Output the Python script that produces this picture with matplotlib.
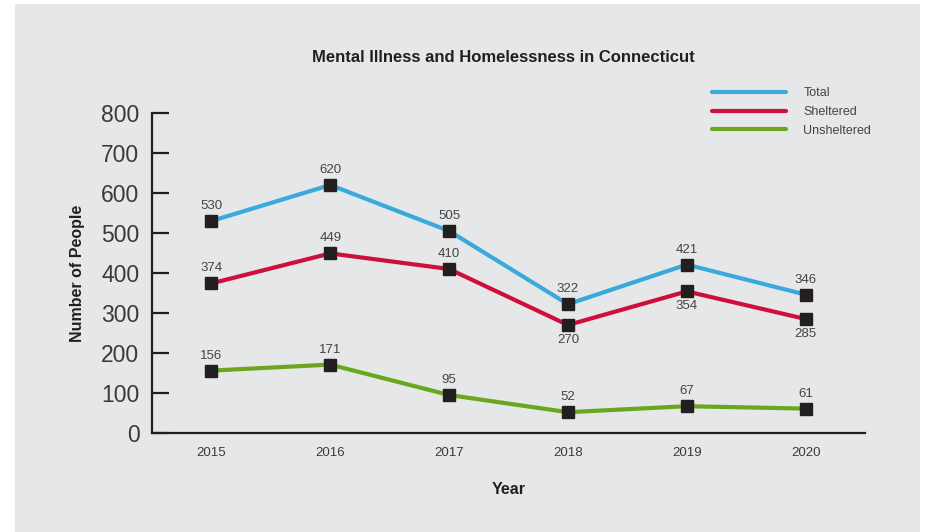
import matplotlib
matplotlib.use("Agg")
import matplotlib.pyplot as plt
from matplotlib.patches import Rectangle

years = [2015, 2016, 2017, 2018, 2019, 2020]
total = [530, 620, 505, 322, 421, 346]
sheltered = [374, 449, 410, 270, 354, 285]
unsheltered = [156, 171, 95, 52, 67, 61]
sheltered_below = [False, False, False, True, True, True]

plt.rcParams['font.family'] = ['Liberation Sans', 'DejaVu Sans']

W, H = 928, 532
fig = plt.figure(figsize=(W / 100, H / 100), dpi=100)
fig.patch.set_facecolor('white')
fig.patches.append(Rectangle((15 / W, 0), (920 - 15) / W, 1 - 4 / H,
                             transform=fig.transFigure, facecolor='#e6e7e8',
                             edgecolor='none', zorder=-10))

ax = fig.add_axes([152 / W, 1 - 433 / H, (865 - 152) / W, (433 - 113) / H])
ax.set_facecolor('none')
ax.set_xlim(2014.5, 2020.5)
ax.set_ylim(0, 800)

c_total = '#3aa9dc'
c_shel = '#cf0f3b'
c_uns = '#6aa71f'

for vals, col, lab in [(total, c_total, 'Total'), (sheltered, c_shel, 'Sheltered'),
                       (unsheltered, c_uns, 'Unsheltered')]:
    ax.plot(years, vals, color=col, lw=3, label=lab, zorder=2, solid_capstyle='round')
    ax.plot(years, vals, ls='none', marker='s', ms=8, color='#231f20', zorder=3)

lab_kw = dict(fontsize=9.5, color='#444444', ha='center')
for x, v in zip(years, total):
    ax.annotate(str(v), (x, v), xytext=(0, 6.5), textcoords='offset points', va='bottom', **lab_kw)
for x, v, b in zip(years, sheltered, sheltered_below):
    if b:
        ax.annotate(str(v), (x, v), xytext=(0, -6.5), textcoords='offset points', va='top', **lab_kw)
    else:
        ax.annotate(str(v), (x, v), xytext=(0, 6.5), textcoords='offset points', va='bottom', **lab_kw)
for x, v in zip(years, unsheltered):
    ax.annotate(str(v), (x, v), xytext=(0, 6.5), textcoords='offset points', va='bottom', **lab_kw)

for s in ['top', 'right']:
    ax.spines[s].set_visible(False)
for s in ['left', 'bottom']:
    ax.spines[s].set_color('#231f20')
    ax.spines[s].set_linewidth(1.6)

ax.set_yticks(range(0, 801, 100))
ax.tick_params(axis='y', direction='in', length=12, width=1.6, color='#231f20',
               labelsize=16.5, labelcolor='#3a3a3a', pad=9)
ax.set_xticks(years)
ax.tick_params(axis='x', length=0, labelsize=9.5, labelcolor='#3a3a3a', pad=10)

ax.set_ylabel('Number of People', fontsize=11.5, fontweight='bold', color='#231f20', labelpad=12)
ax.set_xlabel('Year', fontsize=11.5, fontweight='bold', color='#231f20', labelpad=17)

fig.text(503 / W, 1 - 58 / H, 'Mental Illness and Homelessness in Connecticut',
         ha='center', va='center', fontsize=12, fontweight='bold', color='#231f20')

leg = ax.legend(loc='upper left', bbox_to_anchor=(712 / W, 1 - 87 / H),
                bbox_transform=fig.transFigure, frameon=False, fontsize=9,
                handlelength=5.9, handletextpad=1.4, labelspacing=0.55,
                borderaxespad=0, borderpad=0)
for t in leg.get_texts():
    t.set_color('#444444')

fig.savefig('out.png', dpi=100, facecolor=fig.get_facecolor())
